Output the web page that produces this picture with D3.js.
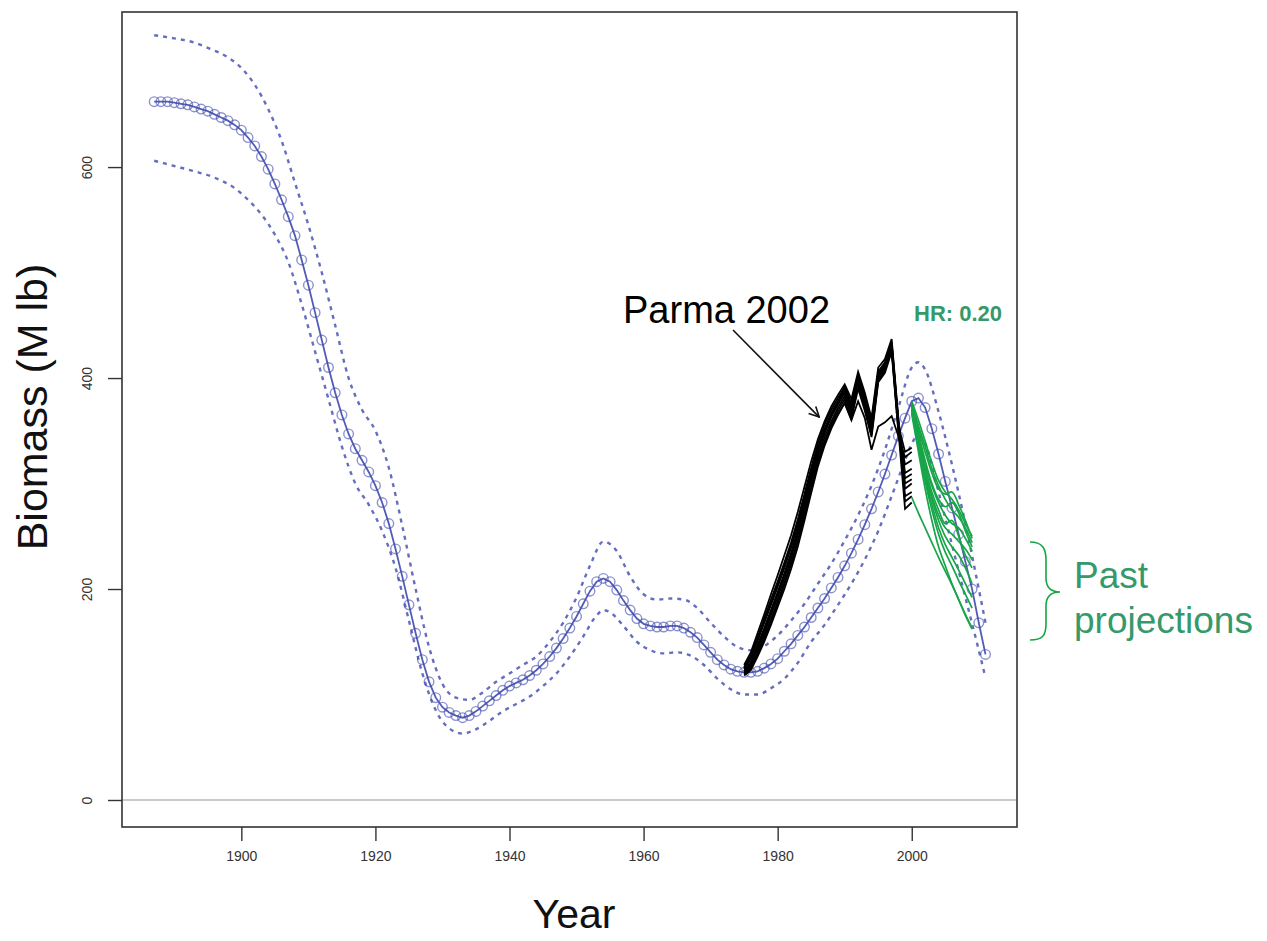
<!DOCTYPE html>
<html>
<head>
<meta charset="utf-8">
<script src="https://cdn.jsdelivr.net/npm/d3@7"></script>
<style>
  html, body { margin: 0; padding: 0; background: #fff; }
  svg { display: block; }
</style>
</head>
<body>
<svg id="chart" width="1267" height="941"></svg>
<script>
// ---- Data (biomass, million lb) ----
const years = d3.range(1887, 2012);

const medianBiomass = [
  662, 662, 662, 661, 660, 659, 657, 655, 653, 650, 647, 644, 640,
  635, 628, 620, 610, 598, 584, 569, 553, 535, 512, 488, 462, 436, 410, 386, 365, 347, 333, 322, 311,
  298, 282, 262, 238, 212, 185, 158, 133, 112, 97, 88, 83, 80, 78, 80, 84, 89, 94, 99, 104,
  108, 111, 114, 118, 123, 129, 136, 144, 153, 163, 174, 186, 198, 207, 210, 207, 199, 189, 180, 172,
  167, 165, 164, 164, 165, 165, 163, 159, 154, 147, 140, 133, 128, 124, 122, 121, 121, 122, 125, 129,
  134, 141, 148, 156, 164, 173, 182, 191, 201, 211, 222, 234, 247, 261, 276, 292, 309, 327, 345, 362,
  378, 381, 372, 352, 328, 302, 277, 252, 226, 200, 168, 138
];

// upper / lower interval as (year, value) knots
const upperYears = [1887, 1890, 1893, 1895, 1898, 1900, 1902, 1904, 1906, 1908, 1910, 1912, 1914, 1916, 1918, 1920, 1922, 1924, 1926, 1928, 1930, 1932, 1934, 1936, 1938, 1940, 1942, 1944, 1946, 1948, 1950, 1952, 1954, 1956, 1958, 1960, 1962, 1964, 1966, 1968, 1970, 1972, 1974, 1976, 1978, 1980, 1982, 1984, 1986, 1988, 1990, 1992, 1994, 1996, 1998, 2000, 2001, 2002, 2004, 2006, 2008, 2010, 2011];
const upperBiomass = [725, 722, 718, 713, 704, 694, 678, 655, 625, 585, 545, 500, 450, 400, 370, 350, 315, 260, 200, 145, 110, 97, 95, 102, 112, 120, 128, 136, 150, 168, 192, 222, 245, 236, 212, 195, 190, 191, 190, 182, 168, 155, 145, 142, 146, 156, 170, 186, 205, 224, 246, 270, 298, 332, 372, 410, 415, 408, 368, 318, 262, 200, 168];

const lowerYears = [1887, 1890, 1893, 1896, 1899, 1901, 1903, 1905, 1907, 1909, 1911, 1913, 1915, 1917, 1919, 1921, 1923, 1925, 1927, 1929, 1931, 1933, 1935, 1937, 1939, 1941, 1943, 1945, 1947, 1949, 1951, 1953, 1954, 1955, 1957, 1959, 1961, 1963, 1965, 1967, 1969, 1971, 1973, 1975, 1977, 1979, 1981, 1983, 1985, 1987, 1989, 1991, 1993, 1995, 1997, 1999, 2000, 2001, 2002, 2004, 2006, 2008, 2010, 2011];
const lowerBiomass = [606, 601, 596, 590, 580, 569, 555, 536, 510, 470, 425, 380, 335, 300, 280, 255, 220, 170, 120, 85, 68, 63, 67, 75, 84, 91, 98, 108, 120, 136, 155, 175, 180, 178, 165, 150, 142, 139, 140, 137, 128, 115, 105, 100, 100, 106, 115, 130, 150, 166, 185, 205, 228, 255, 288, 322, 338, 345, 338, 292, 242, 192, 142, 116];

// Parma 2002 assessment runs, 1975-2000
const parmaYears = d3.range(1975, 2001);
const parmaRuns = [
  [128,140,158,176,195,213,232,251,273,297,321,342,359,373,384,394,380,406,386,362,410,418,437,362,300,304],
  [126,137,154,172,190,207,225,244,266,290,315,338,356,370,381,391,376,403,383,359,406,415,434,360,310,314],
  [124,134,151,168,185,202,220,239,260,285,311,334,352,367,378,389,373,400,380,355,404,413,432,357,288,292],
  [122,131,147,163,180,197,215,234,256,281,307,330,348,363,375,386,370,398,377,352,402,411,431,356,295,300],
  [121,128,143,158,175,192,210,229,251,276,302,325,344,359,372,383,367,396,374,349,400,409,429,353,318,322],
  [120,126,140,155,171,188,206,225,246,271,297,321,340,356,369,380,364,393,371,346,398,407,427,351,276,282],
  [119,125,138,152,169,186,204,223,245,270,296,320,338,354,366,376,360,378,362,332,354,358,364,345,325,330],
  [118,123,136,150,166,183,200,219,240,265,291,316,336,352,365,377,361,390,369,344,396,405,425,349,305,309],
  [125,135,152,169,187,204,222,241,263,288,313,333,350,364,377,392,374,398,378,354,405,414,433,358,283,288],
  [122,130,145,161,178,195,213,232,254,279,305,329,349,365,377,387,371,401,379,353,402,410,430,355,330,334]
];

// Past projections at HR 0.20, 2000-2009
const projYears = d3.range(2000, 2010);
const projRuns = [
  [378, 360, 340, 320, 303, 292, 285, 275, 262, 250],
  [376, 352, 330, 310, 295, 290, 292, 280, 265, 248],
  [374, 348, 322, 300, 285, 278, 282, 272, 255, 240],
  [372, 342, 315, 292, 275, 262, 265, 250, 232, 220],
  [370, 338, 308, 285, 265, 250, 240, 232, 220, 205],
  [368, 335, 302, 275, 252, 235, 222, 208, 195, 182],
  [366, 330, 295, 265, 240, 222, 205, 190, 175, 162],
  [287, 272, 258, 244, 230, 217, 204, 190, 176, 163],
  [375, 345, 318, 298, 282, 270, 262, 258, 248, 236],
  [373, 340, 310, 288, 270, 258, 252, 245, 238, 228],
  [377, 355, 335, 314, 298, 285, 275, 268, 258, 244],
  [369, 336, 305, 280, 258, 242, 230, 218, 205, 192]
];

const xTicks = [1900, 1920, 1940, 1960, 1980, 2000];
const yTicks = [0, 200, 400, 600];

// ---- Layout ----
const box = { left: 122, right: 1017, top: 12, bottom: 827 };
const svg = d3.select("#chart");
const font = "Liberation Sans, Arial, sans-serif";

const x = d3.scaleLinear().domain([1882.2, 2015.7]).range([box.left, box.right]);
const y = d3.scaleLinear().domain([-25.6, 747]).range([box.bottom, box.top]);

const blue = "#3f4aae";
const green = "#17a548";
const textGreen = "#35996a";

// zero reference line
svg.append("line")
  .attr("x1", box.left).attr("x2", box.right)
  .attr("y1", y(0)).attr("y2", y(0))
  .attr("stroke", "#b8b8b8").attr("stroke-width", 1.5);

const plot = svg.append("g");

// interval bounds (dotted)
const dotted = d3.line().x(d => x(d[0])).y(d => y(d[1])).curve(d3.curveMonotoneX);
[[upperYears, upperBiomass], [lowerYears, lowerBiomass]].forEach(([yrs, vals]) => {
  plot.append("path")
    .datum(yrs.map((yr, i) => [yr, vals[i]]))
    .attr("d", dotted)
    .attr("fill", "none")
    .attr("stroke", blue)
    .attr("stroke-opacity", 0.8)
    .attr("stroke-width", 2.4)
    .attr("stroke-dasharray", "4,5");
});

// median estimate: line + open circles
const medianPts = years.map((yr, i) => [yr, medianBiomass[i]]);
plot.append("path")
  .datum(medianPts)
  .attr("d", d3.line().x(d => x(d[0])).y(d => y(d[1])))
  .attr("fill", "none")
  .attr("stroke", blue)
  .attr("stroke-opacity", 0.9)
  .attr("stroke-width", 1.8);

plot.selectAll("circle.med")
  .data(medianPts)
  .join("circle")
  .attr("class", "med")
  .attr("cx", d => x(d[0]))
  .attr("cy", d => y(d[1]))
  .attr("r", 4.8)
  .attr("fill", "none")
  .attr("stroke", blue)
  .attr("stroke-opacity", 0.6)
  .attr("stroke-width", 1.4);

// Parma 2002 runs
plot.selectAll("path.parma")
  .data(parmaRuns)
  .join("path")
  .attr("class", "parma")
  .attr("d", d3.line().x((d, i) => x(parmaYears[i])).y(d => y(d)))
  .attr("fill", "none")
  .attr("stroke", "#000")
  .attr("stroke-width", 1.8)
  .attr("stroke-linejoin", "miter");

// past projections
plot.selectAll("path.proj")
  .data(projRuns)
  .join("path")
  .attr("class", "proj")
  .attr("d", d3.line().x((d, i) => x(projYears[i])).y(d => y(d)).curve(d3.curveCatmullRom))
  .attr("fill", "none")
  .attr("stroke", green)
  .attr("stroke-width", 1.7);

// ---- Frame and axes ----
svg.append("rect")
  .attr("x", box.left).attr("y", box.top)
  .attr("width", box.right - box.left).attr("height", box.bottom - box.top)
  .attr("fill", "none").attr("stroke", "#333").attr("stroke-width", 1.6);

const xAxis = svg.append("g")
  .attr("transform", `translate(0,${box.bottom})`)
  .call(d3.axisBottom(x).tickValues(xTicks).tickSize(14).tickPadding(10).tickFormat(d3.format("d")));
xAxis.select(".domain").remove();
xAxis.selectAll("line").attr("stroke", "#333").attr("stroke-width", 1.4);
xAxis.selectAll("text").attr("font-family", font)
  .attr("font-size", 14).attr("fill", "#333");

const yAxis = svg.append("g")
  .attr("transform", `translate(${box.left},0)`)
  .call(d3.axisLeft(y).tickValues(yTicks).tickSize(14).tickFormat(d3.format("d")));
yAxis.select(".domain").remove();
yAxis.selectAll("line").attr("stroke", "#333").attr("stroke-width", 1.4);
yAxis.selectAll("text")
  .attr("font-family", font)
  .attr("font-size", 14).attr("fill", "#333")
  .attr("text-anchor", "middle")
  .attr("dy", null)
  .attr("x", null)
  .attr("transform", "translate(-34,0) rotate(-90)")
  .attr("dominant-baseline", "middle");

// axis titles
svg.append("text")
  .attr("x", 574).attr("y", 928)
  .attr("text-anchor", "middle")
  .attr("font-family", font)
  .attr("font-size", 41).attr("fill", "#111")
  .text("Year");

svg.append("text")
  .attr("transform", "translate(47,407) rotate(-90)")
  .attr("text-anchor", "middle")
  .attr("font-family", font)
  .attr("font-size", 43).attr("fill", "#111")
  .text("Biomass (M lb)");

// ---- Annotations ----
svg.append("defs").append("marker")
  .attr("id", "arrowhead")
  .attr("viewBox", "0 0 12 12")
  .attr("refX", 11).attr("refY", 6)
  .attr("markerWidth", 12).attr("markerHeight", 12)
  .attr("markerUnits", "userSpaceOnUse")
  .attr("orient", "auto")
  .append("path")
  .attr("d", "M1,1 L11,6 L1,11")
  .attr("fill", "none").attr("stroke", "#111").attr("stroke-width", 1.6);

svg.append("text")
  .attr("x", 623).attr("y", 323)
  .attr("font-family", font)
  .attr("font-size", 38).attr("fill", "#000")
  .text("Parma 2002");

svg.append("line")
  .attr("x1", 733).attr("y1", 330)
  .attr("x2", x(1986.2)).attr("y2", y(363))
  .attr("stroke", "#111").attr("stroke-width", 1.6)
  .attr("marker-end", "url(#arrowhead)");

svg.append("text")
  .attr("x", 914).attr("y", 321)
  .attr("font-family", font)
  .attr("font-size", 22).attr("font-weight", "bold").attr("fill", textGreen)
  .text("HR: 0.20");

// brace grouping the projections
svg.append("path")
  .attr("d", "M1030,542 C1042,542 1046,548 1046,560 L1046,578 C1046,588 1052,592 1060,592 C1052,592 1046,596 1046,606 L1046,624 C1046,636 1042,640 1030,640")
  .attr("fill", "none").attr("stroke", green).attr("stroke-width", 1.6);

svg.append("text")
  .attr("x", 1074).attr("y", 588)
  .attr("font-family", font)
  .attr("font-size", 37).attr("fill", textGreen)
  .text("Past");
svg.append("text")
  .attr("x", 1074).attr("y", 633)
  .attr("font-family", font)
  .attr("font-size", 37).attr("fill", textGreen)
  .text("projections");
</script>
</body>
</html>
